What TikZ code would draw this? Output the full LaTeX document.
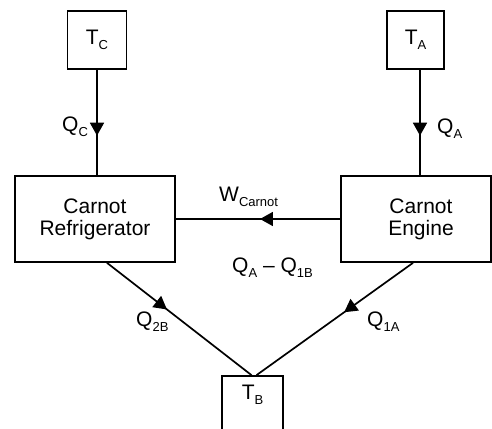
\documentclass[tikz,border=0pt]{standalone}
\usepackage{fontspec}
\setmainfont{Liberation Sans}
\usetikzlibrary{arrows.meta,decorations.markings}
\newcommand{\lowsub}[1]{\raisebox{-5.5pt}{\fontsize{13}{13}\selectfont #1}}
\tikzset{
  box/.style={draw, line width=1.7pt, inner sep=0pt, align=center,
              font=\fontsize{21}{22}\selectfont},
  lbl/.style={inner sep=0pt, anchor=base west, font=\fontsize{21}{22}\selectfont},
  flow/.style={line width=1.7pt, postaction={decorate}},
  midarrow/.style={decoration={markings,
      mark=at position #1 with {\arrow{Triangle[length=13pt,width=14pt]}}}}
}
\begin{document}
\begin{tikzpicture}[x=1pt,y=-1pt]
\useasboundingbox (0,0) rectangle (492,428);
% reservoirs and machines
\node[box, minimum width=59, minimum height=58] (tc) at (97,40) {T\lowsub{C}};
\node[box, minimum width=57, minimum height=58] (ta) at (415.5,40) {T\lowsub{A}};
\node[box, minimum width=160, minimum height=86] (ref) at (95,219) {Carnot\\Refrigerator};
\node[box, minimum width=150, minimum height=86] (eng) at (416,219) {};
\node[box, draw=none] (engtxt) at (421,219) {Carnot\\Engine};
\node[box, minimum width=61, minimum height=60, text height=12pt, text depth=26pt] (tb) at (252.5,406) {T\lowsub{B}};
% connectors
\draw[flow, midarrow=0.625] (tc.south) -- (tc.south |- ref.north);
\draw[flow, midarrow=0.625] ([xshift=4.5pt]ta.south) -- ([xshift=4.5pt]ta.south |- eng.north);
\draw[flow, midarrow=0.488] (eng.west) -- (ref.east);
\draw[flow, midarrow=0.415] ([xshift=12pt]ref.south) -- ([xshift=-1pt]tb.north);
\draw[flow, midarrow=0.44] ([xshift=-3pt]eng.south) -- ([xshift=4pt]tb.north);
% labels
\node[lbl] (qc) at (62,131) {Q\lowsub{C}};
\node[lbl] (qa) at (437,133) {Q\lowsub{A}};
\node[lbl] (w) at (219,201) {W\lowsub{Carnot}};
\node[lbl] (qdiff) at (232,272) {Q\lowsub{A} \textendash{} Q\lowsub{1B}};
\node[lbl] (q2b) at (136,326) {Q\lowsub{2B}};
\node[lbl] (q1a) at (367,326) {Q\lowsub{1A}};
\end{tikzpicture}
\end{document}
